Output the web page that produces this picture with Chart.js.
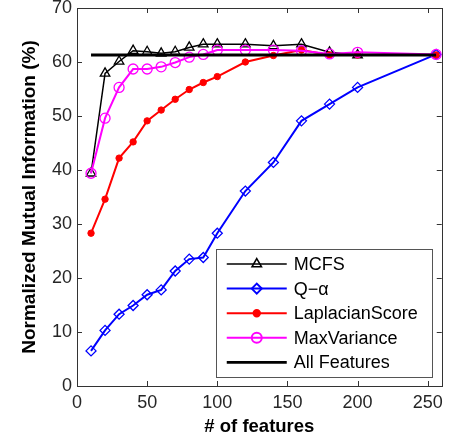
<!DOCTYPE html>
<html>
<head>
<meta charset="utf-8">
<script src="https://cdn.jsdelivr.net/npm/chart.js@4"></script>
<style>
  html, body { margin: 0; padding: 0; background: #fff; }
  #wrap { width: 449px; height: 440px; }
</style>
</head>
<body>
<div id="wrap"><canvas id="chart" width="449" height="440"></canvas></div>
<script>
// --- data ---
const featureCounts = [10, 20, 30, 40, 50, 60, 70, 80, 90, 100, 120, 140, 160, 180, 200, 256];
const mcfsValues = [39.4, 57.9, 60.1, 62.1, 61.9, 61.6, 61.9, 62.7, 63.3, 63.3, 63.3, 63.0, 63.3, 61.8, 61.3];
const qAlphaValues = [6.5, 10.3, 13.3, 14.9, 16.9, 17.8, 21.3, 23.5, 23.8, 28.3, 36.1, 41.4, 49.1, 52.2, 55.3, 61.4];
const laplacianValues = [28.3, 34.6, 42.2, 45.2, 49.1, 51.1, 53.1, 54.9, 56.2, 57.3, 60.0, 61.2, 62.2, 61.3, 61.3, 61.3];
const maxVarianceValues = [39.4, 49.6, 55.3, 58.7, 58.7, 59.1, 59.9, 60.9, 61.4, 62.2, 62.2, 62.2, 62.1, 61.5, 61.8, 61.4];
const allFeaturesX = [10, 256];
const allFeaturesValues = [61.3, 61.3];
const xTickValues = [0, 50, 100, 150, 200, 250];
const yTickValues = [0, 10, 20, 30, 40, 50, 60, 70];

const FONT = '"Liberation Sans", Arial, sans-serif';
const TEXT = '#262626';

const toPoints = (xs, ys) => ys.map((y, i) => ({ x: xs[i], y: y }));

// inward ticks + box round the plot area
const boxTicks = {
    id: 'boxTicks',
    afterDraw(chart) {
        const { ctx, chartArea: a, scales } = chart;
        const len = 5;
        ctx.save();
        ctx.strokeStyle = '#333';
        ctx.lineWidth = 1;
        ctx.beginPath();
        scales.x.ticks.forEach(t => {
            const px = Math.round(scales.x.getPixelForValue(t.value)) + 0.5;
            ctx.moveTo(px, a.bottom); ctx.lineTo(px, a.bottom - len);
            ctx.moveTo(px, a.top); ctx.lineTo(px, a.top + len);
        });
        scales.y.ticks.forEach(t => {
            const py = Math.round(scales.y.getPixelForValue(t.value)) + 0.5;
            ctx.moveTo(a.left, py); ctx.lineTo(a.left + len, py);
            ctx.moveTo(a.right, py); ctx.lineTo(a.right - len, py);
        });
        ctx.stroke();
        ctx.strokeRect(Math.round(a.left) + 0.5, Math.round(a.top) + 0.5,
            Math.round(a.right - a.left), Math.round(a.bottom - a.top));
        ctx.restore();
    }
};

// legend drawn inside the plot, lower right
const boxLegend = {
    id: 'boxLegend',
    afterDraw(chart) {
        const { ctx, chartArea: a } = chart;
        const w = 216, h = 128;
        const x0 = a.right - 10 - w, y0 = a.bottom - 9 - h;
        ctx.save();
        ctx.fillStyle = '#fff';
        ctx.fillRect(x0, y0, w, h);
        ctx.strokeStyle = '#555';
        ctx.lineWidth = 1;
        ctx.strokeRect(Math.round(x0) + 0.5, Math.round(y0) + 0.5, w, h);
        ctx.font = '18px ' + FONT;
        ctx.textBaseline = 'middle';
        chart.data.datasets.forEach((ds, i) => {
            const y = y0 + 15 + i * 24.6;
            ctx.strokeStyle = ds.borderColor;
            ctx.lineWidth = ds.borderWidth;
            ctx.beginPath();
            ctx.moveTo(x0 + 11, y);
            ctx.lineTo(x0 + 71, y);
            ctx.stroke();
            if (ds.pointRadius > 0) {
                ctx.fillStyle = ds.pointBackgroundColor;
                ctx.strokeStyle = ds.borderColor;
                Chart.helpers.drawPoint(ctx, {
                    pointStyle: ds.pointStyle,
                    radius: ds.pointRadius,
                    rotation: 0,
                    borderWidth: ds.pointBorderWidth
                }, x0 + 41, y);
            }
            ctx.fillStyle = '#000';
            ctx.fillText(ds.label, x0 + 78, y + 1);
        });
        ctx.restore();
    }
};

new Chart(document.getElementById('chart'), {
    type: 'line',
    data: {
        datasets: [
            { label: 'MCFS', data: toPoints(featureCounts, mcfsValues), borderColor: '#000000',
              borderWidth: 1.5, pointStyle: 'triangle', pointRadius: 5.5, pointBorderWidth: 1.3,
              pointBackgroundColor: 'rgba(0,0,0,0)', order: 4 },
            { label: 'Q\u2212\u03b1', data: toPoints(featureCounts, qAlphaValues), borderColor: '#0000ff',
              borderWidth: 2, pointStyle: 'rectRot', pointRadius: 5, pointBorderWidth: 1.3,
              pointBackgroundColor: 'rgba(0,0,0,0)', order: 3 },
            { label: 'LaplacianScore', data: toPoints(featureCounts, laplacianValues), borderColor: '#ff0000',
              borderWidth: 2, pointStyle: 'circle', pointRadius: 3.2, pointBorderWidth: 1,
              pointBackgroundColor: '#ff0000', order: 2 },
            { label: 'MaxVariance', data: toPoints(featureCounts, maxVarianceValues), borderColor: '#ff00ff',
              borderWidth: 2, pointStyle: 'circle', pointRadius: 5, pointBorderWidth: 1.3,
              pointBackgroundColor: 'rgba(0,0,0,0)', order: 1 },
            { label: 'All Features', data: toPoints(allFeaturesX, allFeaturesValues), borderColor: '#000000',
              borderWidth: 2.8, pointRadius: 0, pointBorderWidth: 0,
              pointBackgroundColor: '#000000', order: 0 }
        ]
    },
    options: {
        responsive: false,
        animation: false,
        devicePixelRatio: 1,
        layout: { padding: { top: 0, right: 4, left: 0, bottom: 0 } },
        elements: { line: { tension: 0, fill: false } },
        plugins: { legend: { display: false }, tooltip: { enabled: false } },
        scales: {
            x: {
                type: 'linear', min: 0, max: 260,
                afterBuildTicks: s => { s.ticks = xTickValues.map(v => ({ value: v })); },
                afterFit: s => { s.height = 54; },
                grid: { display: false, drawTicks: false, tickLength: 0 }, border: { display: false },
                ticks: { color: TEXT, font: { family: FONT, size: 18 }, padding: 6, maxRotation: 0, autoSkip: false },
                title: { display: true, text: '# of features', color: '#000',
                         font: { family: FONT, size: 18.5, weight: 'bold' }, padding: { top: 0, bottom: 2 } }
            },
            y: {
                type: 'linear', min: 0, max: 70,
                afterBuildTicks: s => { s.ticks = yTickValues.map(v => ({ value: v })); },
                afterFit: s => { s.width = 77; s.paddingTop = 8; s.paddingBottom = 0; },
                grid: { display: false, drawTicks: false, tickLength: 0 }, border: { display: false },
                ticks: { color: TEXT, font: { family: FONT, size: 18 }, padding: 5, autoSkip: false },
                title: { display: true, text: 'Normalized Mutual Information (%)', color: '#000',
                         font: { family: FONT, size: 19, weight: 'bold' }, padding: { top: 18, bottom: 0 } }
            }
        }
    },
    plugins: [boxTicks, boxLegend]
});
</script>
</body>
</html>
